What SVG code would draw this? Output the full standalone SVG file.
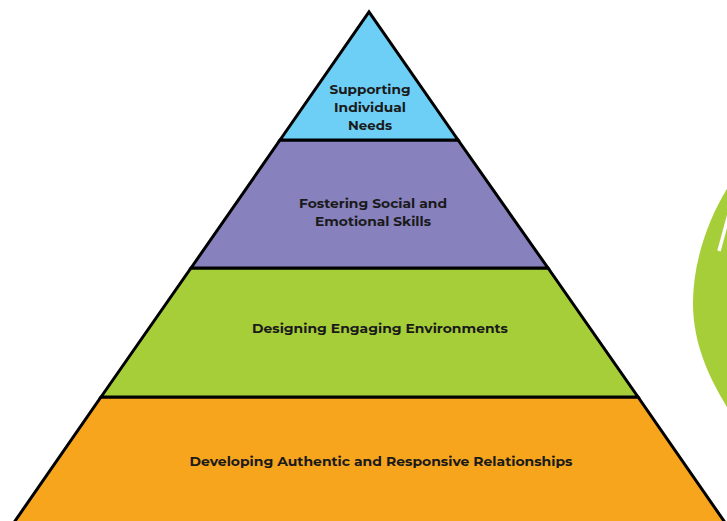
<svg xmlns="http://www.w3.org/2000/svg" width="727" height="521" viewBox="0 0 727 521">
<style>
.layer{stroke:#000;stroke-width:3;stroke-linejoin:miter}
.t{font-family:"Montserrat","Liberation Sans",Arial,sans-serif;font-weight:bold;font-size:13px;fill:#1a1a1a;text-anchor:middle}
</style>
<rect width="727" height="521" fill="#fff"/>
<g id="leaf">
<path d="M730,184 C708,218 693,262 693,303 C693,345 710,380 730,412 Z" fill="#A6CE39"/>
<line x1="719" y1="251" x2="729" y2="214" stroke="#fff" stroke-width="3.5"/>
</g>
<g id="level4">
<polygon class="layer" points="6,534 101,397 638,397 733,534" fill="#F7A51D"/>
<text class="t" x="381" y="466" textLength="383" lengthAdjust="spacingAndGlyphs">Developing Authentic and Responsive Relationships</text>
</g>
<g id="level3">
<polygon class="layer" points="101,397 191,268 548,268 638,397" fill="#A6CE39"/>
<text class="t" x="380" y="333" textLength="256" lengthAdjust="spacingAndGlyphs">Designing Engaging Environments</text>
</g>
<g id="level2">
<polygon class="layer" points="191,268 280,140 458,140 548,268" fill="#8781BD"/>
<text class="t" x="373" y="208" textLength="148" lengthAdjust="spacingAndGlyphs">Fostering Social and</text>
<text class="t" x="373" y="226" textLength="116" lengthAdjust="spacingAndGlyphs">Emotional Skills</text>
</g>
<g id="level1">
<polygon class="layer" points="280,140 369,12 458,140" fill="#6DCFF6"/>
<text class="t" x="370" y="94" textLength="81" lengthAdjust="spacingAndGlyphs">Supporting</text>
<text class="t" x="370" y="112" textLength="72" lengthAdjust="spacingAndGlyphs">Individual</text>
<text class="t" x="370" y="130" textLength="44" lengthAdjust="spacingAndGlyphs">Needs</text>
</g>
<g id="connectors"></g>
</svg>
